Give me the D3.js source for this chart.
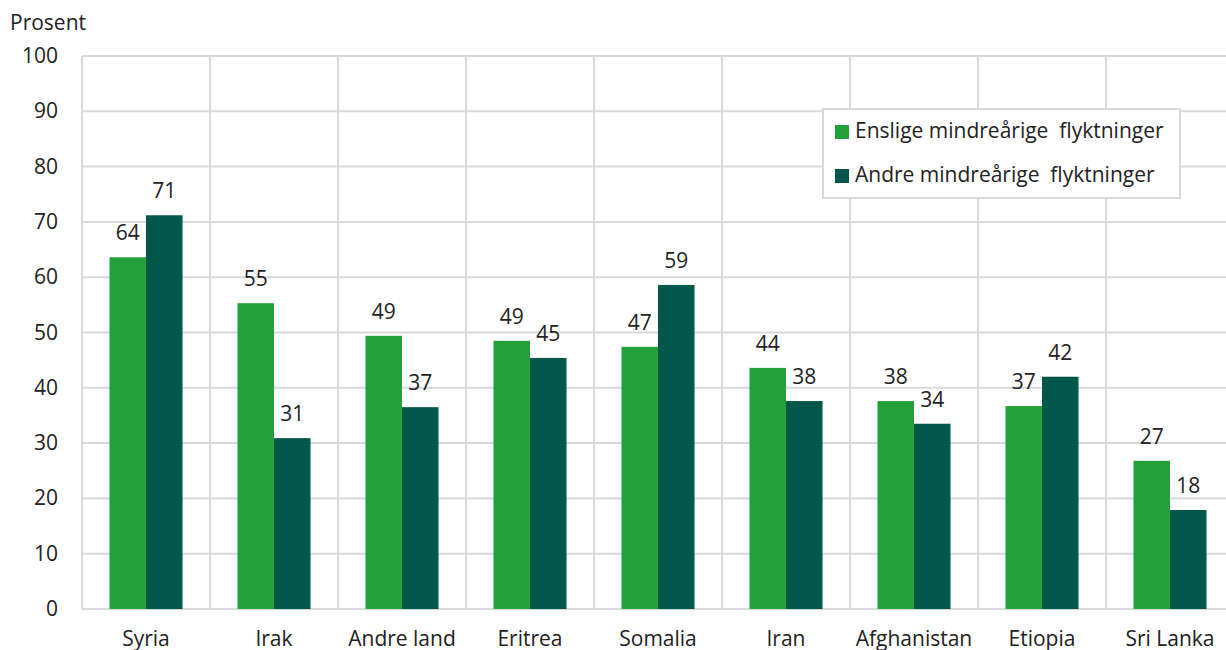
<!DOCTYPE html>
<html><head><meta charset="utf-8">
<script src="https://cdn.jsdelivr.net/npm/d3@7"></script>
<style>body{margin:0;background:#fff}svg{display:block;font-family:"Open Sans",sans-serif}</style>
</head><body><svg id="c" width="1226" height="650"></svg>
<script>
const categories = ["Syria","Irak","Andre land","Eritrea","Somalia","Iran","Afghanistan","Etiopia","Sri Lanka"];
const enslige = [63.6,55.3,49.4,48.5,47.4,43.6,37.6,36.7,26.8];
const andre = [71.2,30.9,36.5,45.4,58.6,37.6,33.5,42.0,17.9];
const seriesNames = ["Enslige mindreårige  flyktninger","Andre mindreårige  flyktninger"];
const yTicks = [0,10,20,30,40,50,60,70,80,90,100];
const colors = ["#22a03a","#00574a"];

const svg = d3.select("#c");
const m = {l:82, r:1234, t:56, b:609};
const x = d3.scaleBand().domain(categories).range([m.l,m.r]).padding(0);
const y = d3.scaleLinear().domain([0,100]).range([m.b,m.t]);
const grid = "#d9d9d9";
const fs = 21;

// horizontal grid
svg.append("g").selectAll("line").data(yTicks).join("line")
  .attr("x1",m.l).attr("x2",m.r).attr("y1",d=>y(d)).attr("y2",d=>y(d))
  .attr("stroke",grid).attr("stroke-width",2);
// vertical grid
svg.append("g").selectAll("line").data(categories.concat(["__end"])).join("line")
  .attr("x1",(d,i)=>m.l+i*x.bandwidth()).attr("x2",(d,i)=>m.l+i*x.bandwidth())
  .attr("y1",m.t).attr("y2",m.b).attr("stroke",grid).attr("stroke-width",2);

// y axis labels
svg.append("g").selectAll("text").data(yTicks).join("text")
  .attr("x",58).attr("y",d=>y(d)+7).attr("text-anchor","end")
  .attr("font-size",fs).attr("fill","#222").text(d=>d);
svg.append("text").attr("x",10).attr("y",30).attr("font-size",fs).attr("fill","#222").text("Prosent");

// bars
const groups = [enslige, andre];
const barW = 36.5;
const off = [-barW, 0];
groups.forEach((vals,si)=>{
  const g = svg.append("g");
  g.selectAll("rect").data(vals).join("rect")
    .attr("x",(d,i)=>x(categories[i])+x.bandwidth()/2+off[si])
    .attr("width",barW)
    .attr("y",d=>y(d)).attr("height",d=>y(0)-y(d))
    .attr("fill",colors[si]);
  g.selectAll("text").data(vals).join("text")
    .attr("x",(d,i)=>x(categories[i])+x.bandwidth()/2+off[si]+barW/2)
    .attr("y",d=>y(d)-17).attr("text-anchor","middle")
    .attr("font-size",fs).attr("fill","#222").text(d=>Math.round(d));
});

// category labels
svg.append("g").selectAll("text").data(categories).join("text")
  .attr("x",d=>x(d)+x.bandwidth()/2).attr("y",646).attr("text-anchor","middle")
  .attr("font-size",fs).attr("fill","#222").text(d=>d);

// legend
const lg = svg.append("g");
lg.append("rect").attr("x",823).attr("y",109).attr("width",357).attr("height",89)
  .attr("fill","#fff").attr("stroke",grid).attr("stroke-width",2);
seriesNames.forEach((n,i)=>{
  lg.append("rect").attr("x",835).attr("y",125+i*44).attr("width",14).attr("height",14).attr("fill",colors[i]);
  lg.append("text").attr("x",855).attr("y",138+i*44).attr("font-size",fs).attr("fill","#222")
    .style("white-space","pre").text(n);
});
</script></body></html>
